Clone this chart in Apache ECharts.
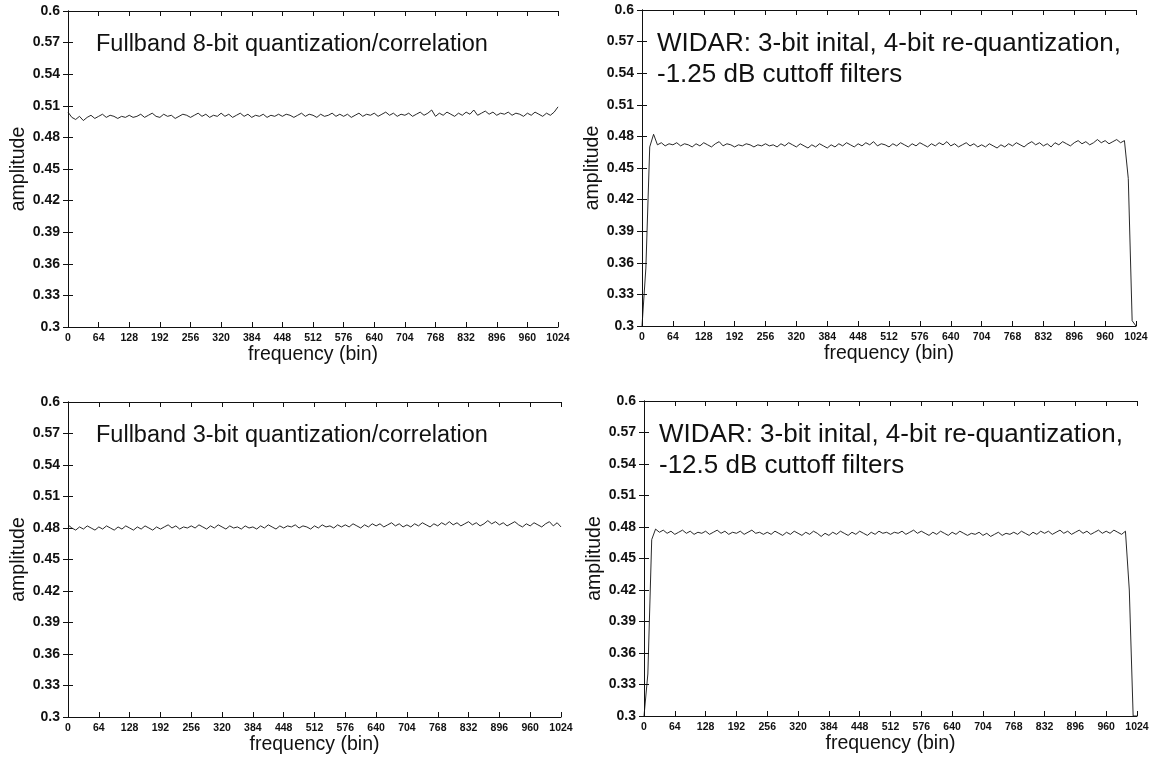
<!DOCTYPE html>
<html>
<head>
<meta charset="utf-8">
<script src="https://cdn.jsdelivr.net/npm/echarts@6/dist/echarts.min.js"></script>
<style>
  html, body { margin: 0; padding: 0; background: #fff; }
  #chart { width: 1163px; height: 759px; }
</style>
</head>
<body>
<div id="chart"></div>
<script>
// frequency bins, sampled every 8 bins (0..1024)
var bins = []
for (var b = 0; b <= 1024; b += 8) bins.push(b)

var xTicks = [0, 64, 128, 192, 256, 320, 384, 448, 512, 576, 640, 704, 768, 832, 896, 960, 1024]
var yTicks = [0.3, 0.33, 0.36, 0.39, 0.42, 0.45, 0.48, 0.51, 0.54, 0.57, 0.6]

var titles = [
  'Fullband 8-bit quantization/correlation',
  'WIDAR: 3-bit inital, 4-bit re-quantization,\n-1.25 dB cuttoff filters',
  'Fullband 3-bit quantization/correlation',
  'WIDAR: 3-bit inital, 4-bit re-quantization,\n-12.5 dB cuttoff filters'
]

// amplitudes
var full8 = [
  0.504, 0.499, 0.497, 0.500, 0.496, 0.499, 0.501, 0.498,
  0.500, 0.502, 0.499, 0.501, 0.500, 0.498, 0.500, 0.499,
  0.501, 0.499, 0.500, 0.502, 0.499, 0.501, 0.503, 0.500,
  0.499, 0.502, 0.500, 0.501, 0.498, 0.500, 0.502, 0.501,
  0.499, 0.501, 0.503, 0.500, 0.502, 0.499, 0.501, 0.500,
  0.503, 0.500, 0.502, 0.499, 0.501, 0.503, 0.500, 0.502,
  0.499, 0.501, 0.500, 0.502, 0.499, 0.501, 0.500, 0.502,
  0.500, 0.502, 0.501, 0.499, 0.501, 0.503, 0.500, 0.502,
  0.501, 0.499, 0.502, 0.500, 0.501, 0.503, 0.500, 0.502,
  0.500, 0.502, 0.499, 0.501, 0.503, 0.500, 0.502, 0.501,
  0.503, 0.500, 0.502, 0.504, 0.501, 0.503, 0.500, 0.502,
  0.501, 0.503, 0.500, 0.502, 0.504, 0.501, 0.503, 0.506,
  0.500, 0.503, 0.501, 0.504, 0.502, 0.500, 0.503, 0.501,
  0.504, 0.502, 0.506, 0.501, 0.503, 0.505, 0.502, 0.504,
  0.501, 0.503, 0.502, 0.504, 0.501, 0.503, 0.502, 0.500,
  0.503, 0.501, 0.504, 0.502, 0.500, 0.503, 0.501, 0.504,
  0.509
]

var widar125 = [
  0.300, 0.355, 0.470, 0.482, 0.472, 0.474, 0.471, 0.473,
  0.472, 0.474, 0.471, 0.473, 0.472, 0.470, 0.473, 0.471,
  0.474, 0.472, 0.470, 0.473, 0.475, 0.471, 0.473, 0.472,
  0.470, 0.472, 0.471, 0.473, 0.472, 0.470, 0.472, 0.471,
  0.473, 0.471, 0.472, 0.470, 0.473, 0.471, 0.474, 0.472,
  0.470, 0.473, 0.471, 0.469, 0.472, 0.470, 0.473, 0.471,
  0.469, 0.472, 0.470, 0.473, 0.471, 0.474, 0.472, 0.470,
  0.473, 0.471, 0.474, 0.472, 0.475, 0.471, 0.473, 0.472,
  0.470, 0.473, 0.471, 0.474, 0.472, 0.470, 0.473, 0.471,
  0.474, 0.472, 0.470, 0.473, 0.471, 0.474, 0.472, 0.475,
  0.471, 0.473, 0.470, 0.472, 0.474, 0.471, 0.473, 0.470,
  0.472, 0.470, 0.473, 0.471, 0.469, 0.472, 0.470, 0.473,
  0.471, 0.474, 0.472, 0.470, 0.473, 0.475, 0.472, 0.474,
  0.471, 0.473, 0.470, 0.474, 0.472, 0.475, 0.473, 0.471,
  0.474, 0.476, 0.473, 0.475, 0.472, 0.474, 0.477, 0.474,
  0.476, 0.473, 0.475, 0.477, 0.474, 0.476, 0.440, 0.305,
  0.300
]

var full3 = [
  0.483, 0.480, 0.478, 0.481, 0.479, 0.482, 0.480, 0.478,
  0.481, 0.479, 0.482, 0.480, 0.478, 0.481, 0.479, 0.482,
  0.480, 0.478, 0.481, 0.479, 0.482, 0.480, 0.478, 0.481,
  0.479, 0.481, 0.483, 0.480, 0.482, 0.479, 0.481, 0.480,
  0.482, 0.480, 0.483, 0.481, 0.479, 0.482, 0.480, 0.483,
  0.481, 0.479, 0.482, 0.480, 0.481, 0.479, 0.482, 0.480,
  0.481, 0.479, 0.482, 0.480, 0.483, 0.481, 0.479, 0.482,
  0.480, 0.482, 0.481, 0.483, 0.480, 0.482, 0.481, 0.479,
  0.482, 0.480, 0.483, 0.481, 0.482, 0.480, 0.483, 0.481,
  0.483, 0.481, 0.484, 0.482, 0.480, 0.483, 0.481, 0.484,
  0.482, 0.484, 0.481, 0.483, 0.485, 0.482, 0.484, 0.481,
  0.483, 0.481, 0.484, 0.482, 0.485, 0.483, 0.481, 0.484,
  0.482, 0.485, 0.483, 0.486, 0.483, 0.485, 0.482, 0.484,
  0.486, 0.483, 0.485, 0.482, 0.484, 0.487, 0.484, 0.486,
  0.483, 0.485, 0.482, 0.484, 0.486, 0.483, 0.481, 0.484,
  0.482, 0.485, 0.483, 0.481, 0.484, 0.486, 0.482, 0.485,
  0.481
]

var widar125db = [
  0.300, 0.340, 0.468, 0.478, 0.475, 0.477, 0.474, 0.476,
  0.473, 0.475, 0.477, 0.474, 0.476, 0.473, 0.475, 0.474,
  0.476, 0.473, 0.475, 0.477, 0.474, 0.476, 0.473, 0.475,
  0.474, 0.476, 0.473, 0.475, 0.477, 0.474, 0.475, 0.473,
  0.475, 0.473, 0.476, 0.474, 0.472, 0.475, 0.473, 0.476,
  0.474, 0.472, 0.475, 0.473, 0.476, 0.474, 0.471, 0.474,
  0.472, 0.475, 0.473, 0.476, 0.474, 0.472, 0.475, 0.473,
  0.476, 0.474, 0.472, 0.475, 0.473, 0.476, 0.474, 0.475,
  0.473, 0.475, 0.474, 0.476, 0.473, 0.475, 0.477, 0.474,
  0.476, 0.474, 0.472, 0.475, 0.473, 0.476, 0.474, 0.472,
  0.475, 0.473, 0.476, 0.474, 0.472, 0.474, 0.473, 0.475,
  0.472, 0.474, 0.471, 0.473, 0.475, 0.472, 0.474, 0.473,
  0.475, 0.473, 0.476, 0.474, 0.472, 0.475, 0.473, 0.476,
  0.474, 0.476, 0.473, 0.475, 0.477, 0.474, 0.476, 0.473,
  0.475, 0.477, 0.474, 0.476, 0.473, 0.475, 0.477, 0.474,
  0.476, 0.474, 0.477, 0.475, 0.473, 0.476, 0.420, 0.300,
  0.300
]

var panelData = [full8, widar125, full3, widar125db]

// plot boxes in pixels
var boxes = [
  { left: 68, top: 11, width: 490, height: 316 },
  { left: 642, top: 10, width: 494, height: 316 },
  { left: 68, top: 402, width: 493, height: 315 },
  { left: 644, top: 401, width: 493, height: 315 }
]

var FONT = 'Liberation Sans, Arial, Helvetica, sans-serif'
var INK = '#111'

var chart = echarts.init(document.getElementById('chart'))

var grid = [], xAxis = [], yAxis = [], series = [], title = []

boxes.forEach(function (box, i) {
  grid.push({ left: box.left, top: box.top, width: box.width, height: box.height, containLabel: false })

  var xBase = {
    gridIndex: i,
    type: 'value',
    min: xTicks[0],
    max: xTicks[xTicks.length - 1],
    interval: 64,
    axisLine: { show: true, lineStyle: { color: INK, width: 1 } },
    axisTick: { show: true, inside: true, length: 5, lineStyle: { color: INK } },
    splitLine: { show: false }
  }
  // bottom axis with labels
  xAxis.push(Object.assign({}, xBase, {
    position: 'bottom',
    name: 'frequency (bin)',
    nameLocation: 'middle',
    nameGap: 18,
    nameTextStyle: { color: INK, fontFamily: FONT, fontSize: 19.5 },
    axisLabel: {
      color: INK, fontFamily: FONT, fontSize: 10.5, fontWeight: 'bold', margin: 6,
      formatter: function (v) { return String(v) }
    }
  }))
  // top mirror axis
  xAxis.push(Object.assign({}, xBase, {
    position: 'top',
    axisLabel: { show: false }
  }))

  var yBase = {
    gridIndex: i,
    type: 'value',
    min: yTicks[0],
    max: yTicks[yTicks.length - 1],
    interval: 0.03,
    axisLine: { show: true, lineStyle: { color: INK, width: 1 } },
    axisTick: { show: true, inside: true, length: 5, lineStyle: { color: INK } },
    splitLine: { show: false }
  }
  yAxis.push(Object.assign({}, yBase, {
    position: 'left',
    name: 'amplitude',
    nameLocation: 'middle',
    nameGap: 34,
    nameRotate: 90,
    nameTextStyle: { color: INK, fontFamily: FONT, fontSize: 19.5 },
    axisLabel: {
      color: INK, fontFamily: FONT, fontSize: 14, fontWeight: 'bold', margin: 8,
      formatter: function (v) { return String(Math.round(v * 100) / 100) }
    }
  }))
  yAxis.push(Object.assign({}, yBase, {
    position: 'right',
    axisLabel: { show: false }
  }))

  var vals = panelData[i]
  series.push({
    type: 'line',
    xAxisIndex: i * 2,
    yAxisIndex: i * 2,
    data: bins.map(function (b, k) { return [b, vals[k]] }),
    showSymbol: false,
    silent: true,
    lineStyle: { color: INK, width: 0.9 },
    animation: false
  })

  var wide = i % 2 === 1
  title.push({
    text: titles[i],
    left: box.left + (wide ? 10 : 23),
    top: box.top + (wide ? 13 : 13),
    textStyle: {
      color: INK, fontFamily: FONT, fontWeight: 'normal',
      fontSize: wide ? 26 : 23.5,
      lineHeight: 31
    }
  })
})

chart.setOption({
  backgroundColor: '#fff',
  animation: false,
  title: title,
  grid: grid,
  xAxis: xAxis,
  yAxis: yAxis,
  series: series
})
</script>
</body>
</html>
